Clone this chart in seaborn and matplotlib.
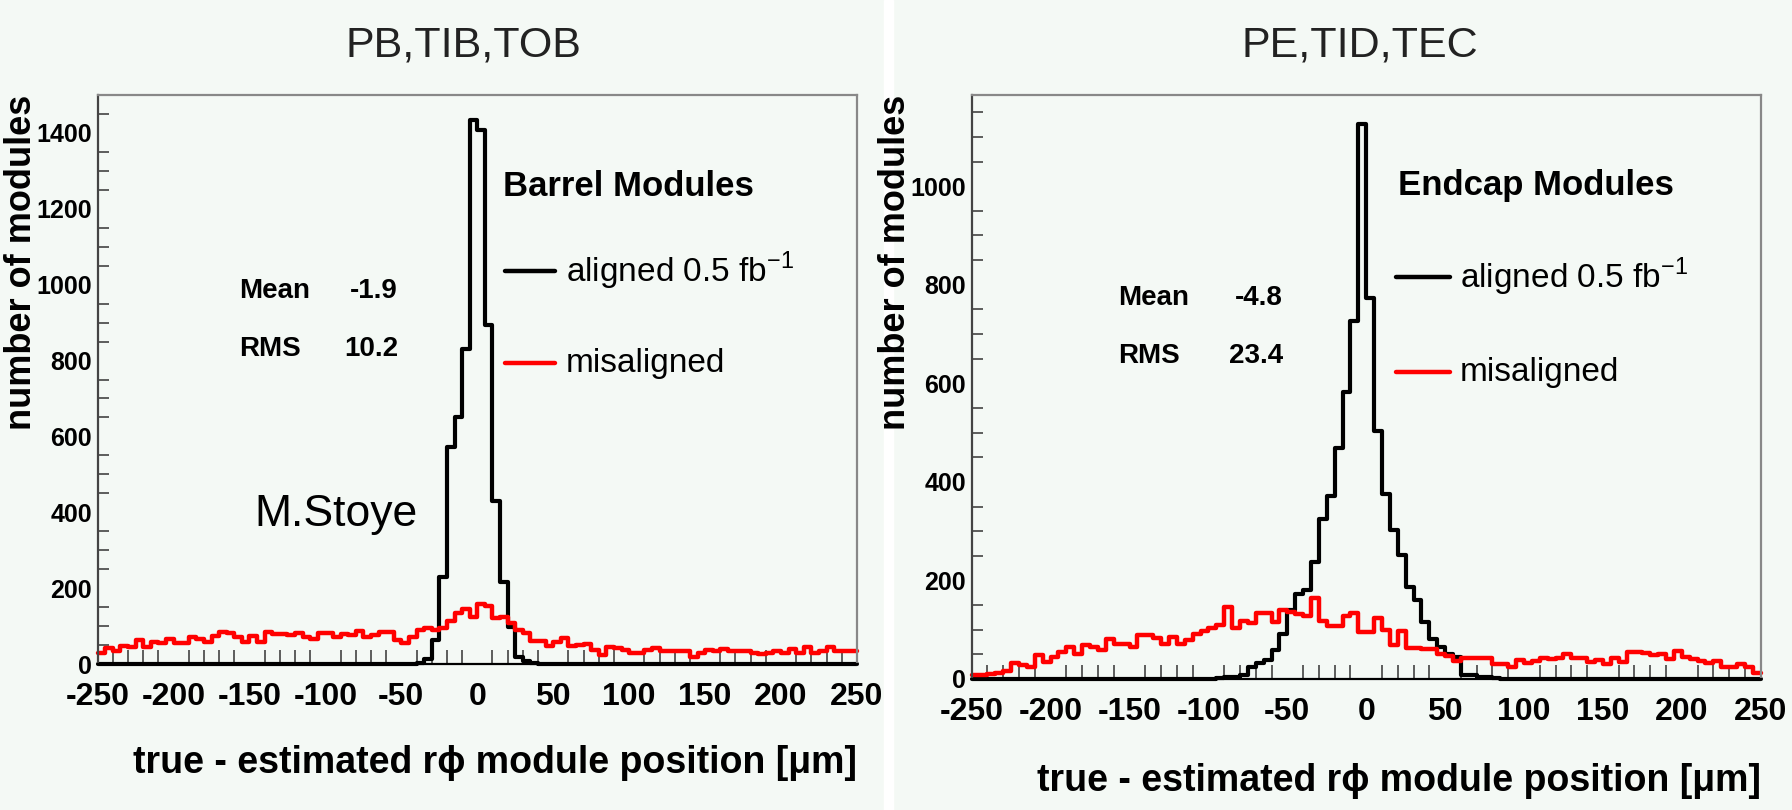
import numpy as np
import pandas as pd
import matplotlib
matplotlib.use("Agg")
import matplotlib.pyplot as plt
import seaborn as sns
from matplotlib.ticker import MultipleLocator
from matplotlib.lines import Line2D
from matplotlib.patches import Rectangle

# ---------------- data (5 um bins from -250 to 250) ----------------
bin_edges = list(range(-250, 255, 5))
x_ticks = [-250, -200, -150, -100, -50, 0, 50, 100, 150, 200, 250]

barrel_aligned = [
    0, 0, 0, 0, 0, 0, 0, 0, 0, 0,
    0, 0, 0, 0, 0, 0, 0, 0, 0, 0,
    0, 0, 0, 0, 0, 0, 0, 0, 0, 0,
    0, 0, 0, 0, 0, 0, 0, 0, 0, 0,
    0, 0, 3, 12, 62, 229, 573, 652, 830, 1434,
    1409, 894, 429, 215, 97, 19, 8, 3, 0, 0,
    0, 0, 0, 0, 0, 0, 0, 0, 0, 0,
    0, 0, 0, 0, 0, 0, 0, 0, 0, 0,
    0, 0, 0, 0, 0, 0, 0, 0, 0, 0,
    0, 0, 0, 0, 0, 0, 0, 0, 0, 0,
]
barrel_misaligned = [
    30, 41, 35, 47, 44, 62, 46, 59, 56, 65,
    56, 56, 70, 65, 59, 74, 85, 83, 70, 59,
    74, 59, 85, 79, 79, 76, 81, 72, 65, 83,
    83, 72, 80, 76, 88, 70, 76, 85, 85, 63,
    56, 70, 90, 94, 90, 94, 114, 134, 144, 125,
    158, 153, 120, 125, 107, 90, 83, 61, 61, 47,
    59, 68, 47, 50, 53, 36, 24, 44, 41, 37,
    28, 30, 37, 41, 33, 33, 35, 33, 19, 28,
    37, 35, 39, 35, 33, 33, 28, 26, 30, 33,
    30, 39, 30, 44, 30, 35, 44, 35, 35, 35,
]
endcap_aligned = [
    0, 0, 0, 0, 0, 0, 0, 0, 0, 0,
    0, 0, 0, 0, 0, 0, 0, 0, 0, 0,
    0, 0, 0, 0, 0, 0, 0, 0, 0, 0,
    0, 3, 4, 5, 8, 24, 32, 38, 59, 92,
    139, 173, 180, 237, 325, 372, 468, 582, 726, 1126,
    773, 503, 375, 302, 252, 187, 160, 116, 82, 64,
    50, 45, 9, 8, 5, 4, 2, 1, 0, 0,
    0, 0, 0, 0, 0, 0, 0, 0, 0, 0,
    0, 0, 0, 0, 0, 0, 0, 0, 0, 0,
    0, 0, 0, 0, 0, 0, 0, 0, 0, 0,
]
endcap_misaligned = [
    8, 8, 10, 13, 17, 32, 28, 25, 49, 34,
    45, 55, 64, 51, 69, 65, 59, 81, 72, 72,
    65, 90, 90, 84, 71, 86, 71, 79, 92, 98,
    104, 110, 146, 104, 117, 113, 134, 134, 116, 141,
    135, 131, 128, 164, 118, 108, 108, 127, 133, 95,
    95, 123, 100, 70, 97, 62, 62, 60, 60, 50,
    47, 36, 42, 42, 42, 42, 30, 30, 25, 38,
    32, 36, 43, 40, 43, 50, 43, 43, 34, 38,
    30, 43, 34, 54, 54, 52, 49, 50, 40, 57,
    45, 40, 36, 32, 36, 25, 25, 30, 25, 13,
]

panel_titles = ["PB,TIB,TOB", "PE,TID,TEC"]
box_titles = ["Barrel Modules", "Endcap Modules"]
stat_mean = ["-1.9", "-4.8"]
stat_rms = ["10.2", "23.4"]
y_max = [1500, 1185]
x_label = "true - estimated r\u03d5 module position [\u03bcm]"
y_label = "number of modules"

# ---------------- styling ----------------
W, H = 1792, 810
BG = "#f4f9f5"
sns.set_theme(style="white")
plt.rcParams["font.family"] = ["Liberation Sans", "DejaVu Sans"]
plt.rcParams["mathtext.fontset"] = "custom"
plt.rcParams["mathtext.rm"] = "Liberation Sans"
plt.rcParams["axes.unicode_minus"] = False
for key in ["text.color", "axes.labelcolor", "xtick.color", "ytick.color"]:
    plt.rcParams[key] = "black"

fig = plt.figure(figsize=(W / 100, H / 100), dpi=100, facecolor=BG)
fig.add_artist(Rectangle((884 / W, 0), 9 / W, 1, transform=fig.transFigure,
                         color="white", zorder=0))


def fx(px):
    return px / W


def fy(py):
    return 1 - py / H


# axes boxes in pixels: (left, top, right, bottom)
boxes = [(97.6, 95, 857, 664), (971.7, 95, 1760.7, 679)]
edges_arr = np.array(bin_edges, dtype=float)
centers = (edges_arr[:-1] + edges_arr[1:]) / 2
datasets = [(barrel_aligned, barrel_misaligned), (endcap_aligned, endcap_misaligned)]

layout = [
    dict(title_x=463, ylab_x=22, xlab_y=763, box_x=503, box_y=187, line_x=(505, 555),
         text_x=566, l1_y=271, l2_y=363, mean_x=239, val_x=398, mean_y=298, rms_y=356),
    dict(title_x=1360, ylab_x=895, xlab_y=781, box_x=1398, box_y=185, line_x=(1396, 1450),
         text_x=1460, l1_y=277, l2_y=372, mean_x=1118, val_x=1283, mean_y=305, rms_y=363),
]

for i, (box, (al, mis), lay) in enumerate(zip(boxes, datasets, layout)):
    l, t, r, b = box
    ax = fig.add_axes([fx(l), fy(b), fx(r - l), (b - t) / H])
    ax.set_facecolor(BG)

    df = pd.DataFrame({"x": centers, "aligned": np.array(al, dtype=float),
                       "misaligned": np.array(mis, dtype=float)})
    sns.histplot(data=df, x="x", weights="aligned", bins=bin_edges, element="step",
                 fill=False, color="black", linewidth=3.0, ax=ax)
    sns.histplot(data=df, x="x", weights="misaligned", bins=bin_edges, element="step",
                 fill=False, color="#ff0000", linewidth=3.2, ax=ax)
    for art in list(ax.lines) + list(ax.patches):
        art.set_clip_on(False)

    ax.set_xlim(-250, 250)
    ax.set_ylim(0, y_max[i])
    ax.set_xticks(x_ticks)
    ax.set_xticklabels([str(v) for v in x_ticks], fontweight="bold", fontsize=23)
    ax.xaxis.set_minor_locator(MultipleLocator(10))
    ax.yaxis.set_major_locator(MultipleLocator(200))
    ax.yaxis.set_minor_locator(MultipleLocator(50))
    for lbl in ax.get_yticklabels():
        lbl.set_fontweight("bold")
        lbl.set_fontsize(18)
    ax.tick_params(axis="x", which="major", direction="in", length=17, width=1.3,
                   color="#222", pad=13)
    ax.tick_params(axis="x", which="minor", direction="in", length=10, width=1.1,
                   color="#333", bottom=True)
    ax.tick_params(axis="y", which="major", direction="in", length=15, width=1.3,
                   color="#222", pad=4)
    ax.tick_params(axis="y", which="minor", direction="in", length=8, width=1.1,
                   color="#333", left=True)
    for side, col in [("left", "#444"), ("bottom", "black"), ("top", "#888"), ("right", "#888")]:
        ax.spines[side].set_visible(True)
        ax.spines[side].set_color(col)
        ax.spines[side].set_linewidth(1.6)

    ax.set_xlabel(x_label, fontsize=27, fontweight="bold", ha="right", va="center")
    ax.xaxis.set_label_coords(1.0, -(lay["xlab_y"] - b) / (b - t))
    ax.set_ylabel(y_label, fontsize=26, fontweight="bold")
    ax.yaxis.label.set(ha="right", va="center", rotation_mode="anchor")
    ax.yaxis.set_label_coords((lay["ylab_x"] - l) / (r - l), 1.0)

    # panel title
    fig.text(fx(lay["title_x"]), fy(46), panel_titles[i], fontsize=31,
             ha="center", va="center", color="#222")
    # ROOT-style legend box
    fig.text(fx(lay["box_x"]), fy(lay["box_y"]), box_titles[i], fontsize=25,
             fontweight="bold", ha="left", va="center")
    x0, x1 = lay["line_x"]
    fig.add_artist(Line2D([fx(x0), fx(x1)], [fy(lay["l1_y"])] * 2, color="black", lw=3.2,
                          transform=fig.transFigure))
    fig.add_artist(Line2D([fx(x0), fx(x1)], [fy(lay["l2_y"])] * 2, color="#ff0000", lw=3.2,
                          transform=fig.transFigure))
    fig.text(fx(lay["text_x"]), fy(lay["l1_y"]), "aligned 0.5 fb$^{\\mathregular{-1}}$",
             fontsize=24, ha="left", va="center")
    fig.text(fx(lay["text_x"]), fy(lay["l2_y"]), "misaligned", fontsize=24,
             ha="left", va="center")
    # statistics
    fig.text(fx(lay["mean_x"]), fy(lay["mean_y"]), "Mean", fontsize=20, fontweight="bold",
             ha="left", va="baseline")
    fig.text(fx(lay["val_x"]), fy(lay["mean_y"]), stat_mean[i], fontsize=20,
             fontweight="bold", ha="right", va="baseline")
    fig.text(fx(lay["mean_x"]), fy(lay["rms_y"]), "RMS", fontsize=20, fontweight="bold",
             ha="left", va="baseline")
    fig.text(fx(lay["val_x"]), fy(lay["rms_y"]), stat_rms[i], fontsize=20,
             fontweight="bold", ha="right", va="baseline")

fig.text(fx(254), fy(526), "M.Stoye", fontsize=32, ha="left", va="baseline")

fig.savefig("out.png", dpi=100, facecolor=BG)
